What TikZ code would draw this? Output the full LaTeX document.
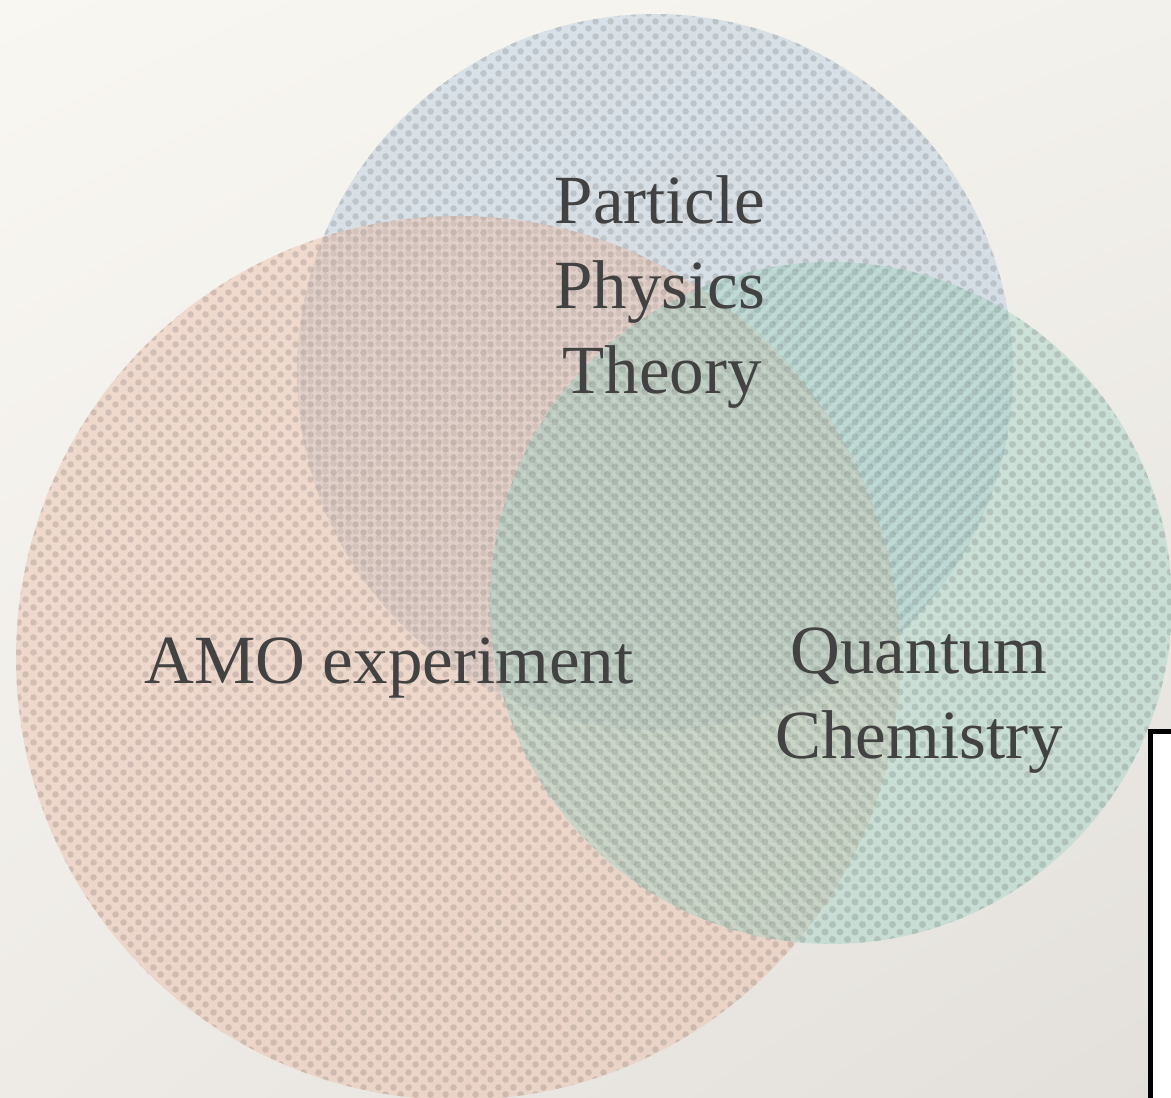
\documentclass[tikz,border=0pt]{standalone}
\usepackage{fontspec}
\setmainfont{Liberation Serif}
\usetikzlibrary{patterns,shadings}
\definecolor{bgTL}{RGB}{249,247,242}
\definecolor{bgTR}{RGB}{243,241,236}
\definecolor{bgBL}{RGB}{238,235,230}
\definecolor{bgBR}{RGB}{227,224,220}
\definecolor{blueC}{RGB}{188,207,224}
\definecolor{orangeC}{RGB}{236,194,174}
\definecolor{greenC}{RGB}{170,214,200}
\definecolor{txt}{RGB}{66,66,66}
\pgfdeclarepatternformonly{dotsA}{\pgfqpoint{0pt}{0pt}}{\pgfqpoint{7.5pt}{7.5pt}}{\pgfqpoint{7.5pt}{7.5pt}}{%
  \pgfpathcircle{\pgfqpoint{1.875pt}{1.875pt}}{1.75pt}%
  \pgfpathcircle{\pgfqpoint{5.625pt}{5.625pt}}{1.75pt}%
  \pgfusepath{fill}}
\pgfdeclarepatternformonly{dotsB}{\pgfqpoint{0pt}{0pt}}{\pgfqpoint{7.5pt}{7.5pt}}{\pgfqpoint{7.5pt}{7.5pt}}{%
  \pgfpathcircle{\pgfqpoint{1.875pt}{5.625pt}}{1.75pt}%
  \pgfpathcircle{\pgfqpoint{5.625pt}{1.875pt}}{1.75pt}%
  \pgfusepath{fill}}
\pgfdeclarepatternformonly{dotsC}{\pgfqpoint{-1.875pt}{-1.875pt}}{\pgfqpoint{5.625pt}{5.625pt}}{\pgfqpoint{7.5pt}{7.5pt}}{%
  \pgfpathcircle{\pgfqpoint{0pt}{0pt}}{1.75pt}%
  \pgfpathcircle{\pgfqpoint{3.75pt}{3.75pt}}{1.75pt}%
  \pgfusepath{fill}}
\begin{document}
\begin{tikzpicture}[x=0.5pt,y=-0.5pt,
  lbl/.style={text=txt,font=\fontsize{34.5}{42}\selectfont,inner sep=0pt,anchor=base},
  disc/.style={fill opacity=0.5},
  dotfill/.style={pattern=#1,pattern color=black,fill opacity=0.12}]
\useasboundingbox (0,0) rectangle (1171,1097);
\clip (0,0) rectangle (1171,1097);
\shade[upper left=bgTL,upper right=bgTR,lower left=bgBL,lower right=bgBR] (0,0) rectangle (1171,1097);
% blue circle
\fill[disc,blueC] (655,372) circle (358);
\fill[dotfill=dotsA] (655,372) circle (358);
% orange circle
\fill[disc,orangeC] (458,658) circle (442);
\fill[dotfill=dotsB] (458,658) circle (442);
% green circle
\fill[disc,greenC] (831,603) circle (341);
\fill[dotfill=dotsC] (831,603) circle (341);
% labels
\node[lbl] (p1) at (660,223) {Particle};
\node[lbl] (p2) at (660,308) {Physics};
\node[lbl] (p3) at (662,393) {Theory};
\node[lbl] (amo) at (389,683) {AMO experiment};
\node[lbl] (q1) at (919,673) {Quantum};
\node[lbl] (q2) at (919,758) {Chemistry};
% framed box at lower right
\fill[white] (1150,731) rectangle (1200,1120);
\draw[line width=2.5pt,black] (1150,731) rectangle (1200,1120);
\end{tikzpicture}
\end{document}
